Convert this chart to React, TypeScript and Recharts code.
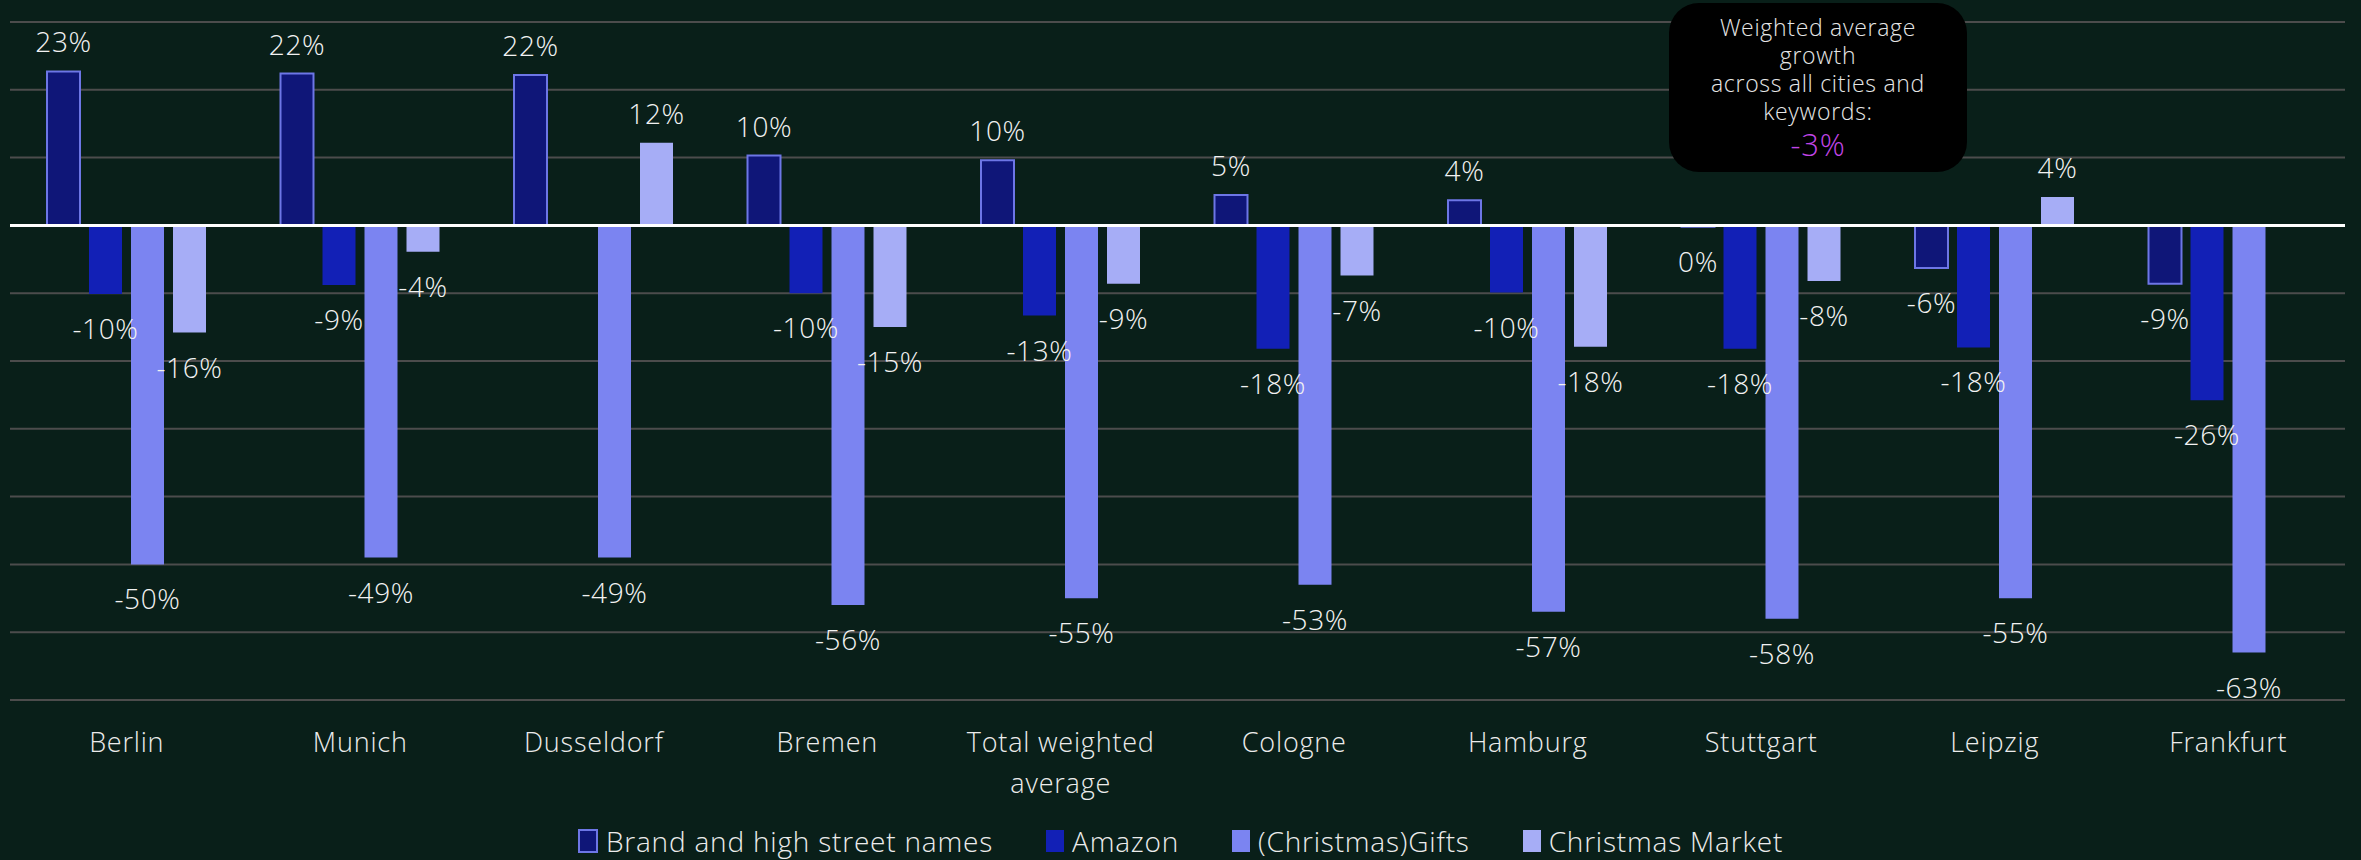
import React from 'react';
import { BarChart, Bar, XAxis, YAxis, CartesianGrid, ReferenceLine, LabelList } from 'recharts';

const cities = ['Berlin', 'Munich', 'Dusseldorf', 'Bremen', 'Total weighted average', 'Cologne', 'Hamburg', 'Stuttgart', 'Leipzig', 'Frankfurt'];
const brandNames = [22.7, 22.4, 22.2, 10.3, 9.6, 4.5, 3.7, -0.2, -6.3, -8.6];
const amazon = [-10.1, -8.8, 0, -10, -13.3, -18.2, -9.9, -18.2, -18, -25.8];
const gifts = [-50, -49, -49, -56, -55, -53, -57, -58, -55, -63];
const christmasMarket = [-15.8, -3.9, 12.2, -15, -8.6, -7.4, -17.9, -8.2, 4.2, 0];
const yTicks = [-70, -60, -50, -40, -30, -20, -10, 0, 10, 20, 30];
const noteLines = ['Weighted average', 'growth', 'across all cities and', 'keywords:'];
const noteValue = '-3%';

const FONT = "'Open Sans', sans-serif";

const series = [
  { key: 'brand', name: 'Brand and high street names', fill: '#0f1678', stroke: '#6d76e6' },
  { key: 'amazon', name: 'Amazon', fill: '#1220b6', stroke: 'none' },
  { key: 'gifts', name: '(Christmas)Gifts', fill: '#7b84f1', stroke: 'none' },
  { key: 'market', name: 'Christmas Market', fill: '#a6adf6', stroke: 'none' },
];

const data = cities.map((city, i) => ({
  city,
  brand: brandNames[i],
  amazon: amazon[i],
  gifts: gifts[i],
  market: christmasMarket[i],
}));

const ValueLabel = (props: any) => {
  const { x, y, width, height, value } = props;
  const top = Math.min(y, y + height);
  const bottom = Math.max(y, y + height);
  const neg = value < 0;
  return (
    <text
      x={x + width / 2}
      y={neg ? bottom + 45 : top - 19}
      textAnchor="middle"
      fill="#f2f2f2"
      fontSize={28}
      fontWeight={300}
      fontFamily={FONT}
      letterSpacing={0.6}
    >
      {`${Math.round(value)}%`}
    </text>
  );
};

const CityTick = (props: any) => {
  const { x, y, payload } = props;
  // wrap long names onto two lines
  const words = String(payload.value).split(' ');
  const lines: string[] = [];
  let cur = '';
  words.forEach((w) => {
    if (cur && (cur + ' ' + w).length > 15) {
      lines.push(cur);
      cur = w;
    } else {
      cur = cur ? cur + ' ' + w : w;
    }
  });
  lines.push(cur);
  return (
    <text x={x} y={y + 52} textAnchor="middle" fill="#ececec" fontSize={27} fontWeight={300} fontFamily={FONT} letterSpacing={0.8}>
      {lines.map((l, i) => (
        <tspan key={i} x={x} dy={i === 0 ? 0 : 41}>
          {l}
        </tspan>
      ))}
    </text>
  );
};

export default function App() {
  return (
    <div
      style={{
        position: 'absolute',
        left: 0,
        top: 0,
        width: 2361,
        height: 860,
        background: '#091f19',
        overflow: 'hidden',
        fontFamily: FONT,
      }}
    >
      <BarChart
        width={2361}
        height={860}
        data={data}
        margin={{ top: 22, right: 16, bottom: 0, left: 10 }}
        barSize={33}
        barGap={9}
      >
        <CartesianGrid vertical={false} stroke="#4c4c4c" strokeWidth={2} />
        <XAxis dataKey="city" axisLine={false} tickLine={false} tickSize={0} tickMargin={0} height={160} interval={0} tick={<CityTick />} />
        <YAxis hide domain={[-70, 30]} ticks={yTicks} />
        {series.map((s) => (
          <Bar
            key={s.key}
            dataKey={s.key}
            name={s.name}
            fill={s.fill}
            stroke={s.stroke}
            strokeWidth={s.stroke === 'none' ? 0 : 2}
            isAnimationActive={false}
          >
            <LabelList dataKey={s.key} content={<ValueLabel />} />
          </Bar>
        ))}
        <ReferenceLine y={0} stroke="#ffffff" strokeWidth={3} />
      </BarChart>

      <div
        style={{
          position: 'absolute',
          left: 1669,
          top: 3,
          width: 298,
          height: 169,
          borderRadius: 30,
          background: '#000000',
          color: '#e6e6e6',
          textAlign: 'center',
          fontSize: 23,
          fontWeight: 300,
          letterSpacing: 0.7,
          lineHeight: '28px',
          paddingTop: 10,
          boxSizing: 'border-box',
        }}
      >
        {noteLines.map((l) => (
          <div key={l}>{l}</div>
        ))}
        <div style={{ color: '#c145e6', fontSize: 31, lineHeight: '38px' }}>{noteValue}</div>
      </div>

      <div
        style={{
          position: 'absolute',
          left: 0,
          top: 825,
          width: 2361,
          display: 'flex',
          justifyContent: 'center',
          gap: 53,
          color: '#ececec',
          fontSize: 28,
          fontWeight: 300,
          letterSpacing: 0.8,
          lineHeight: '32px',
        }}
      >
        {series.map((s) => (
          <div key={s.key} style={{ display: 'flex', alignItems: 'center', gap: 8 }}>
            <span
              style={{
                width: s.stroke === 'none' ? 18 : 16,
                height: s.stroke === 'none' ? 22 : 20,
                background: s.fill,
                border: s.stroke === 'none' ? 'none' : `2px solid ${s.stroke}`,
                display: 'inline-block',
              }}
            />
            <span>{s.name}</span>
          </div>
        ))}
      </div>
    </div>
  );
}
